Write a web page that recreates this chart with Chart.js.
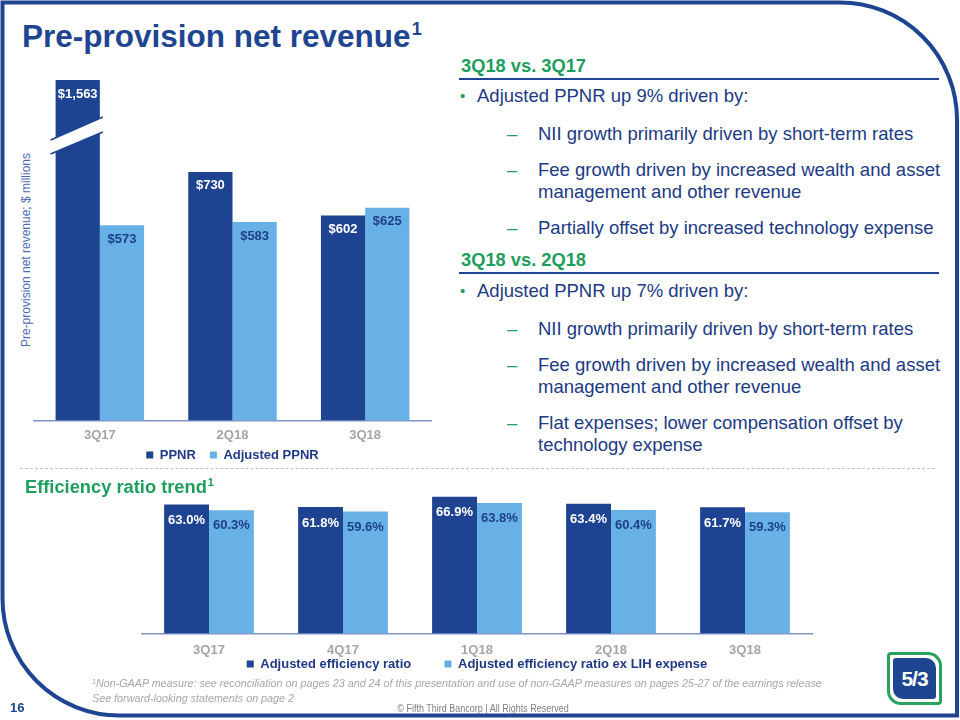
<!DOCTYPE html>
<html><head><meta charset="utf-8">
<script src="https://cdn.jsdelivr.net/npm/chart.js@4.4.0/dist/chart.umd.min.js"></script>
<style>
html,body{margin:0;padding:0;background:#fff;}
body{width:960px;height:720px;position:relative;overflow:hidden;font-family:'Liberation Sans',Arial,sans-serif;}
.t{position:absolute;white-space:nowrap;}
.title{left:22px;top:18px;font-size:31.5px;line-height:36px;font-weight:bold;color:#1E4592;}
.h{font-size:18.3px;line-height:22px;font-weight:bold;color:#1E9E5C;}
.rule{position:absolute;height:2px;background:#1E4592;}
.b{font-size:18.5px;line-height:22px;color:#203A84;}
.sub{font-size:18.5px;line-height:22.5px;color:#203A84;}
.mk{position:absolute;color:#1E9E5C;font-size:18.5px;line-height:22px;}
canvas{position:absolute;}
</style></head><body>

<svg width="960" height="720" style="position:absolute;left:0;top:0;pointer-events:none">
<path d="M2.5 2.5 H840 A117 117 0 0 1 957 119.5 V715.5 H119.5 A117 117 0 0 1 2.5 598.5 Z" fill="none" stroke="#1E4592" stroke-width="4"/>
</svg>

<div class="t title">Pre-provision net revenue<span style="font-size:18px;position:relative;top:-12px;margin-left:1px">1</span></div>

<div class="t" style="left:26px;top:250px;transform:translate(-50%,-50%) rotate(-90deg);font-size:12px;line-height:14px;color:#4A6CB4;">Pre-provision net revenue; $ millions</div>

<canvas id="c1" width="440" height="487" style="left:0;top:0;width:440px;height:487px"></canvas>

<!-- right panel -->
<div class="t h" style="left:461px;top:55px">3Q18 vs. 3Q17</div>
<div class="rule" style="left:459px;top:78px;width:480px"></div>
<div class="mk" style="left:460px;top:85px;font-size:15px">•</div>
<div class="t b" style="left:477px;top:85px">Adjusted PPNR up 9% driven by:</div>
<div class="mk" style="left:507px;top:123px">–</div>
<div class="t sub" style="left:538px;top:122.75px">NII growth primarily driven by short-term rates</div>
<div class="mk" style="left:507px;top:159px">–</div>
<div class="t sub" style="left:538px;top:158.75px">Fee growth driven by increased wealth and asset<br>management and other revenue</div>
<div class="mk" style="left:507px;top:217px">–</div>
<div class="t sub" style="left:538px;top:216.75px">Partially offset by increased technology expense</div>

<div class="t h" style="left:461px;top:249px">3Q18 vs. 2Q18</div>
<div class="rule" style="left:459px;top:272px;width:480px"></div>
<div class="mk" style="left:460px;top:280px;font-size:15px">•</div>
<div class="t b" style="left:477px;top:280px">Adjusted PPNR up 7% driven by:</div>
<div class="mk" style="left:507px;top:318px">–</div>
<div class="t sub" style="left:538px;top:317.75px">NII growth primarily driven by short-term rates</div>
<div class="mk" style="left:507px;top:354px">–</div>
<div class="t sub" style="left:538px;top:353.75px">Fee growth driven by increased wealth and asset<br>management and other revenue</div>
<div class="mk" style="left:507px;top:412px">–</div>
<div class="t sub" style="left:538px;top:411.75px">Flat expenses; lower compensation offset by<br>technology expense</div>

<div style="position:absolute;left:20px;top:468px;width:915px;border-top:1px dashed #BFBFBF;"></div>

<div class="t h" style="left:25px;top:476px">Efficiency ratio trend<span style="font-size:11px;position:relative;top:-7px;margin-left:1px">1</span></div>

<canvas id="c2" width="960" height="218" style="left:0;top:480px;width:960px;height:218px"></canvas>

<div class="t" style="left:92px;top:677px;font-size:10.75px;line-height:12.5px;font-style:italic;color:#A6A6A6;"><span style="font-size:7px;position:relative;top:-3px">1</span>Non-GAAP measure: see reconciliation on pages 23 and 24 of this presentation and use of non-GAAP measures on pages 25-27 of the earnings release<br>See forward-looking statements on page 2</div>
<div class="t" style="left:10px;top:702px;font-size:13px;line-height:12px;font-weight:bold;color:#1E4592;">16</div>
<div class="t" style="left:483px;top:703px;transform:translateX(-50%) scaleX(0.9);font-family:'Liberation Sans Narrow','Arial Narrow','Liberation Sans',sans-serif;font-size:10px;line-height:12px;color:#7F7F7F;">© Fifth Third Bancorp | All Rights Reserved</div>

<!-- logo -->
<div style="position:absolute;left:887px;top:652px;width:49px;height:47px;border:3px solid #27A35F;border-radius:4px 14px 4px 14px;background:#fff;"></div>
<div style="position:absolute;left:893px;top:658px;width:43px;height:41px;border-radius:3px 10px 3px 10px;background:#1E4592;color:#fff;font-weight:bold;font-size:21px;line-height:41px;text-align:center;letter-spacing:-1px;">5/3</div>

<script>
// ---- data ----
const ppnrCategories = ['3Q17', '2Q18', '3Q18'];
const ppnrValues = [1563, 730, 602];
const adjustedPpnrValues = [573, 583, 625];
const ppnrAxisMax = 1000; // axis is broken; taller bar is cut at the top

const effCategories = ['3Q17', '4Q17', '1Q18', '2Q18', '3Q18'];
const adjEfficiencyValues = [63.0, 61.8, 66.9, 63.4, 61.7];
const adjEfficiencyExLihValues = [60.3, 59.6, 63.8, 60.4, 59.3];
const effAxisMax = 70;

// ---- styles ----
const DARK = '#1D4391';
const LIGHT = '#67B1E7';
const LABEL_DARK = '#1F3F8A';
const TICK = '#A5A5A5';
const AXIS = '#7E93C6';
const FONT = "'Liberation Sans', Arial, sans-serif";

const valueLabels = {
  id: 'valueLabels',
  afterDatasetsDraw(chart, args, opts) {
    const {ctx, chartArea} = chart;
    chart.data.datasets.forEach((ds, i) => {
      const meta = chart.getDatasetMeta(i);
      meta.data.forEach((el, j) => {
        const v = ds.data[j];
        const top = Math.max(el.y, chartArea.top);
        ctx.save();
        ctx.font = 'bold 13px ' + FONT;
        ctx.fillStyle = opts.colors[i];
        ctx.textAlign = 'center';
        ctx.textBaseline = 'middle';
        ctx.fillText(opts.format(v), el.x, top + opts.offsets[i]);
        ctx.restore();
      });
    });
  }
};

const axisBreak = {
  id: 'axisBreak',
  afterDatasetsDraw(chart) {
    const el = chart.getDatasetMeta(0).data[0];
    const top = chart.chartArea.top;
    const l = el.x - el.width / 2 - 5, r = el.x + el.width / 2 + 3;
    const ctx = chart.ctx;
    ctx.save();
    ctx.beginPath();
    ctx.moveTo(l, top + 60); ctx.lineTo(r, top + 37);
    ctx.lineTo(r, top + 52); ctx.lineTo(l, top + 74);
    ctx.closePath();
    ctx.fillStyle = '#fff';
    ctx.fill();
    ctx.strokeStyle = DARK;
    ctx.lineWidth = 1.5;
    ctx.beginPath();
    ctx.moveTo(l, top + 60); ctx.lineTo(r, top + 37);
    ctx.moveTo(l, top + 74); ctx.lineTo(r, top + 52);
    ctx.stroke();
    ctx.restore();
  }
};

// moves the legend box up after layout (the slide's legend sits close to the tick labels)
const legendShift = {
  id: 'legendShift',
  afterLayout(chart, args, opts) {
    const lg = chart.legend;
    if (lg && opts.dy) { lg.top -= opts.dy; lg.bottom -= opts.dy; }
  }
};

const legendFont = {family: FONT, size: 13, weight: 'bold'};

new Chart(document.getElementById('c1'), {
  type: 'bar',
  data: {
    labels: ppnrCategories,
    datasets: [
      {label: 'PPNR', data: ppnrValues, backgroundColor: DARK, borderWidth: 0, clip: 0, categoryPercentage: 0.667, barPercentage: 1},
      {label: 'Adjusted PPNR', data: adjustedPpnrValues, backgroundColor: LIGHT, borderWidth: 0, clip: 0, categoryPercentage: 0.667, barPercentage: 1}
    ]
  },
  options: {
    responsive: false, animation: false, devicePixelRatio: 1,
    layout: {padding: {left: 33.5, right: 8.5, top: 80, bottom: 0}},
    scales: {
      x: {
        grid: {display: false, drawTicks: false},
        border: {display: true, color: AXIS, width: 1.5},
        ticks: {color: TICK, font: {family: FONT, size: 13, weight: 'bold'}, padding: 7}
      },
      y: {display: false, min: 0, max: ppnrAxisMax}
    },
    plugins: {
      legend: {position: 'bottom', labels: {boxWidth: 7, boxHeight: 7, padding: 14, color: '#1F3A84', font: legendFont}},
      legendShift: {dy: 15.4},
      tooltip: {enabled: false},
      valueLabels: {colors: ['#FFFFFF', LABEL_DARK], offsets: [14, 14], format: v => '$' + v.toLocaleString('en-US')}
    }
  },
  plugins: [legendShift, axisBreak, valueLabels]
});

new Chart(document.getElementById('c2'), {
  type: 'bar',
  data: {
    labels: effCategories,
    datasets: [
      {label: 'Adjusted efficiency ratio', data: adjEfficiencyValues, backgroundColor: DARK, borderWidth: 0, categoryPercentage: 0.67, barPercentage: 1},
      {label: 'Adjusted efficiency ratio ex LIH expense', data: adjEfficiencyExLihValues, backgroundColor: LIGHT, borderWidth: 0, categoryPercentage: 0.67, barPercentage: 1}
    ]
  },
  options: {
    responsive: false, animation: false, devicePixelRatio: 1,
    layout: {padding: {left: 142, right: 148, top: 10.3, bottom: 0}},
    scales: {
      x: {
        grid: {display: false, drawTicks: false},
        border: {display: true, color: AXIS, width: 1.5},
        ticks: {color: TICK, font: {family: FONT, size: 13, weight: 'bold'}, padding: 9}
      },
      y: {display: false, min: 0, max: effAxisMax}
    },
    plugins: {
      legend: {
        position: 'bottom',
        labels: {
          boxWidth: 7, boxHeight: 7, padding: 8, color: '#1F3A84', font: legendFont,
          generateLabels: (chart) => Chart.defaults.plugins.legend.labels.generateLabels(chart)
            .map((l, i) => i === 0 ? Object.assign(l, {text: l.text + '       '}) : l)
        }
      },
      legendShift: {dy: 17.5},
      tooltip: {enabled: false},
      valueLabels: {colors: ['#FFFFFF', LABEL_DARK], offsets: [16, 15.5], format: v => v.toFixed(1) + '%'}
    }
  },
  plugins: [legendShift, valueLabels]
});
</script>
</body></html>
